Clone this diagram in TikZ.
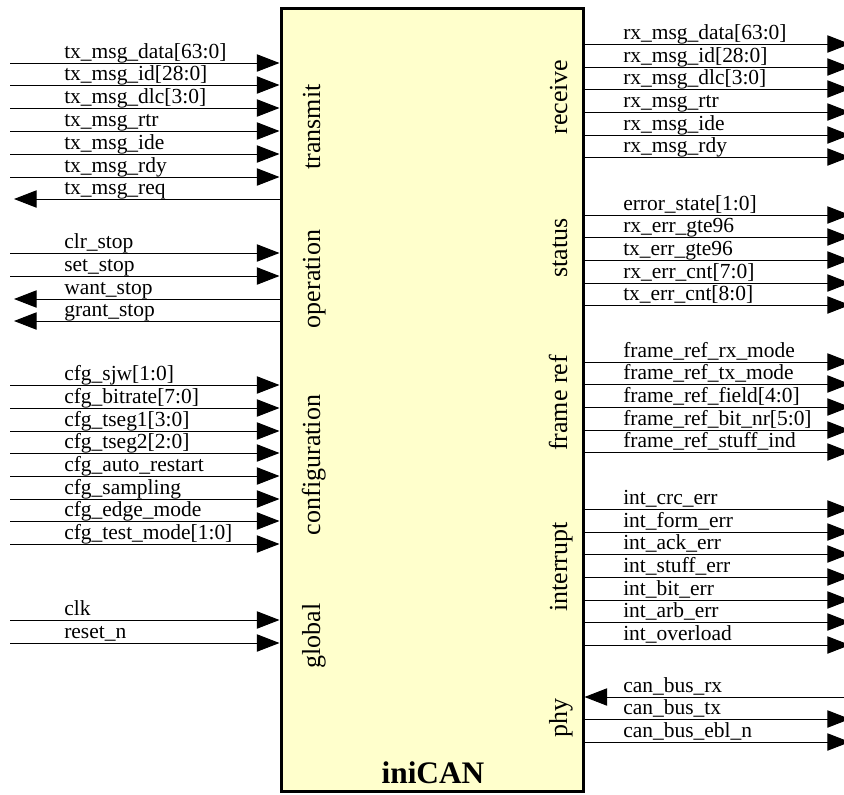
\documentclass[tikz,border=0pt]{standalone}
\usepackage{fontspec}
\setmainfont{Liberation Serif}
\usetikzlibrary{arrows.meta,positioning}
\definecolor{corefill}{HTML}{FFFFCC}

\begin{document}
\begin{tikzpicture}[x=0.75pt,y=-0.75pt,>=Triangle,
core box/.style={draw,line width=2.25pt,fill=corefill,inner sep=0pt,minimum width=226.5pt,minimum height=587.25pt},
wire/.style={-{Triangle[length=17pt,width=13pt]},line width=0.75pt},
pin label/.style={anchor=base west,inner sep=0pt,font=\fontsize{16.1}{18}\selectfont},
group label/.style={rotate=90,anchor=base,inner sep=0pt,font=\fontsize{19.5}{22}\selectfont}]
\useasboundingbox (0,0) rectangle (844,794);
\node[core box] (ican) at (432,399.5) {};
\node[anchor=base,inner sep=0pt,font=\bfseries\fontsize{23.5}{26}\selectfont] (title) at (433,783) {iniCAN};
% groups on the left
\node[group label] (gtx) at (320,127) {transmit};
\node[group label] (gop) at (320,279) {operation};
\node[group label] (gcfg) at (320,465) {configuration};
\node[group label] (gglb) at (320,636) {global};
% groups on the right
\node[group label] (grx) at (567,97) {receive};
\node[group label] (gst) at (567,248) {status};
\node[group label] (gfr) at (567,403) {frame ref};
\node[group label] (gint) at (567,567) {interrupt};
\node[group label] (gphy) at (567,718) {phy};
% left side inputs
\foreach \y/\txt in {63/tx\_msg\_data[63:0],85/tx\_msg\_id[28:0],108/tx\_msg\_dlc[3:0],131/tx\_msg\_rtr,154/tx\_msg\_ide,177/tx\_msg\_rdy,
  253/clr\_stop,276/set\_stop,
  385/cfg\_sjw[1:0],408/cfg\_bitrate[7:0],431/cfg\_tseg1[3:0],453/cfg\_tseg2[2:0],476/cfg\_auto\_restart,499/cfg\_sampling,521/cfg\_edge\_mode,544/cfg\_test\_mode[1:0],
  620/clk,643/reset\_n}{
  \coordinate (l\y) at (10,\y);
  \node[pin label] (nl\y) at (64,\y-4.5) {\txt};
  \draw[wire] (l\y) -- (l\y -| ican.west);
}
% left side outputs
\foreach \y/\txt in {199/tx\_msg\_req,299/want\_stop,321/grant\_stop}{
  \coordinate (l\y) at (14,\y);
  \node[pin label] (nl\y) at (64,\y-4.5) {\txt};
  \draw[wire] (l\y -| ican.west) -- (l\y);
}
% right side outputs
\foreach \y/\txt in {44/rx\_msg\_data[63:0],67/rx\_msg\_id[28:0],89/rx\_msg\_dlc[3:0],112/rx\_msg\_rtr,135/rx\_msg\_ide,157/rx\_msg\_rdy,
  215/error\_state[1:0],237/rx\_err\_gte96,260/tx\_err\_gte96,283/rx\_err\_cnt[7:0],305/tx\_err\_cnt[8:0],
  362/frame\_ref\_rx\_mode,384/frame\_ref\_tx\_mode,407/frame\_ref\_field[4:0],430/frame\_ref\_bit\_nr[5:0],452/frame\_ref\_stuff\_ind,
  509/int\_crc\_err,532/int\_form\_err,554/int\_ack\_err,577/int\_stuff\_err,600/int\_bit\_err,622/int\_arb\_err,645/int\_overload,
  719/can\_bus\_tx,742/can\_bus\_ebl\_n}{
  \coordinate (r\y) at (850,\y);
  \node[pin label] (nr\y) at (623,\y-4.5) {\txt};
  \draw[wire] (r\y -| ican.east) -- (r\y);
}
% right side input
\coordinate (r697) at (850,697);
\node[pin label] (nr697) at (623,692.5) {can\_bus\_rx};
\draw[wire] (r697) -- (r697 -| ican.east);
\end{tikzpicture}
\end{document}
